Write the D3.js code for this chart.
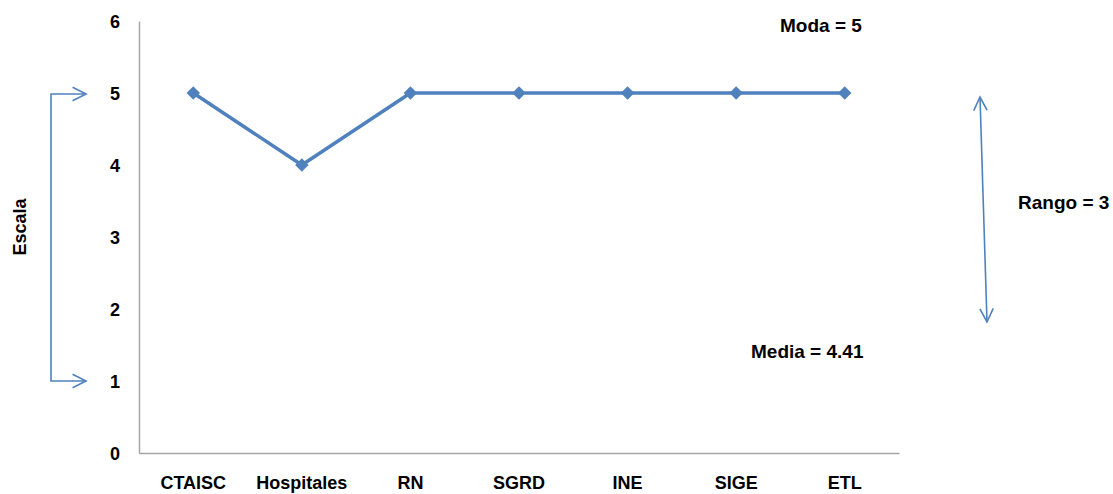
<!DOCTYPE html>
<html>
<head>
<meta charset="utf-8">
<script src="https://cdn.jsdelivr.net/npm/d3@7"></script>
<style>
  html, body { margin: 0; padding: 0; background: #fff; }
  svg { display: block; font-family: "Liberation Sans", Arial, sans-serif; }
</style>
</head>
<body>
<svg id="chart" width="1113" height="494"></svg>
<script>
// Sistemas evaluados y su puntuación en la escala
const categories = ["CTAISC", "Hospitales", "RN", "SGRD", "INE", "SIGE", "ETL"];
const values = [5, 4, 5, 5, 5, 5, 5];
const yTicks = [0, 1, 2, 3, 4, 5, 6];
const yTitle = "Escala";
const notes = ["Moda = 5", "Media = 4.41", "Rango = 3"];

const blue = "#4f81bd";
const axisGray = "#a6a6a6";

const svg = d3.select("#chart");
const plot = { left: 139, right: 899, top: 21, bottom: 453 };

const x = d3.scaleBand().domain(categories).range([plot.left, plot.right]);
const y = d3.scaleLinear().domain([0, 6]).range([plot.bottom, plot.top]);

// Ejes
const yAxis = svg.append("g")
  .attr("transform", `translate(${plot.left},0)`)
  .call(d3.axisLeft(y).tickValues(yTicks).tickSize(0).tickPadding(19).tickFormat(d3.format("d")));
yAxis.select(".domain").attr("stroke", axisGray).attr("stroke-width", 1.5);
yAxis.selectAll("text")
  .attr("fill", "#000").attr("font-size", 18).attr("font-weight", "bold")
  .attr("font-family", "Liberation Sans, Arial, sans-serif").attr("dy", "0.36em");

const xAxis = svg.append("g")
  .attr("transform", `translate(0,${plot.bottom})`)
  .call(d3.axisBottom(x).tickSize(0).tickPadding(23.5));
xAxis.select(".domain").attr("stroke", axisGray).attr("stroke-width", 1.5);
xAxis.selectAll("text")
  .attr("fill", "#000").attr("font-size", 18).attr("font-weight", "bold")
  .attr("font-family", "Liberation Sans, Arial, sans-serif");

// Título del eje Y
svg.append("text")
  .attr("transform", "translate(26,227) rotate(-90)")
  .attr("text-anchor", "middle")
  .attr("font-size", 18).attr("font-weight", "bold")
  .text(yTitle);

// Serie
const cx = d => x(d) + x.bandwidth() / 2;
const line = d3.line().x((d, i) => cx(categories[i])).y(d => y(d));
svg.append("path")
  .datum(values)
  .attr("d", line)
  .attr("fill", "none").attr("stroke", blue)
  .attr("stroke-width", 3.5).attr("stroke-linejoin", "round");

const diamond = d3.symbol().type(d3.symbolSquare).size(90);
svg.selectAll(".marker")
  .data(values)
  .join("path")
  .attr("class", "marker")
  .attr("d", diamond)
  .attr("transform", (d, i) => `translate(${cx(categories[i])},${y(d)}) rotate(45)`)
  .attr("fill", blue);

// Flechas de anotación
const arrows = svg.append("g").attr("fill", "none").attr("stroke", blue).attr("stroke-width", 1.6);
function head(tx, ty, ang) {
  // punta abierta en (tx,ty) apuntando en la dirección ang (radianes)
  const len = 15, spread = 0.46;
  const a1 = ang + Math.PI - spread, a2 = ang + Math.PI + spread;
  arrows.append("path").attr("d",
    `M${tx + len * Math.cos(a1)},${ty + len * Math.sin(a1)}L${tx},${ty}L${tx + len * Math.cos(a2)},${ty + len * Math.sin(a2)}`);
}
// Corchete izquierdo: de 1 a 5
const bx = 51, tipX = 86;
arrows.append("path").attr("d", `M${tipX},${y(5) + 1}H${bx}V${y(1)}H${tipX}`);
head(tipX, y(5) + 1, 0);
head(tipX, y(1), 0);

// Flecha doble del rango
const r1 = [980, 97], r2 = [987, 322];
arrows.append("path").attr("d", `M${r1[0]},${r1[1]}L${r2[0]},${r2[1]}`);
const ang = Math.atan2(r2[1] - r1[1], r2[0] - r1[0]);
head(r2[0], r2[1], ang);
head(r1[0], r1[1], ang + Math.PI);

// Textos de resumen
const notePos = [[780, 31.5], [751, 358], [1018, 208.5]];
svg.selectAll(".note")
  .data(notes)
  .join("text")
  .attr("class", "note")
  .attr("x", (d, i) => notePos[i][0])
  .attr("y", (d, i) => notePos[i][1])
  .attr("font-size", 19).attr("font-weight", "bold")
  .attr("fill", "#000")
  .text(d => d);
</script>
</body>
</html>
